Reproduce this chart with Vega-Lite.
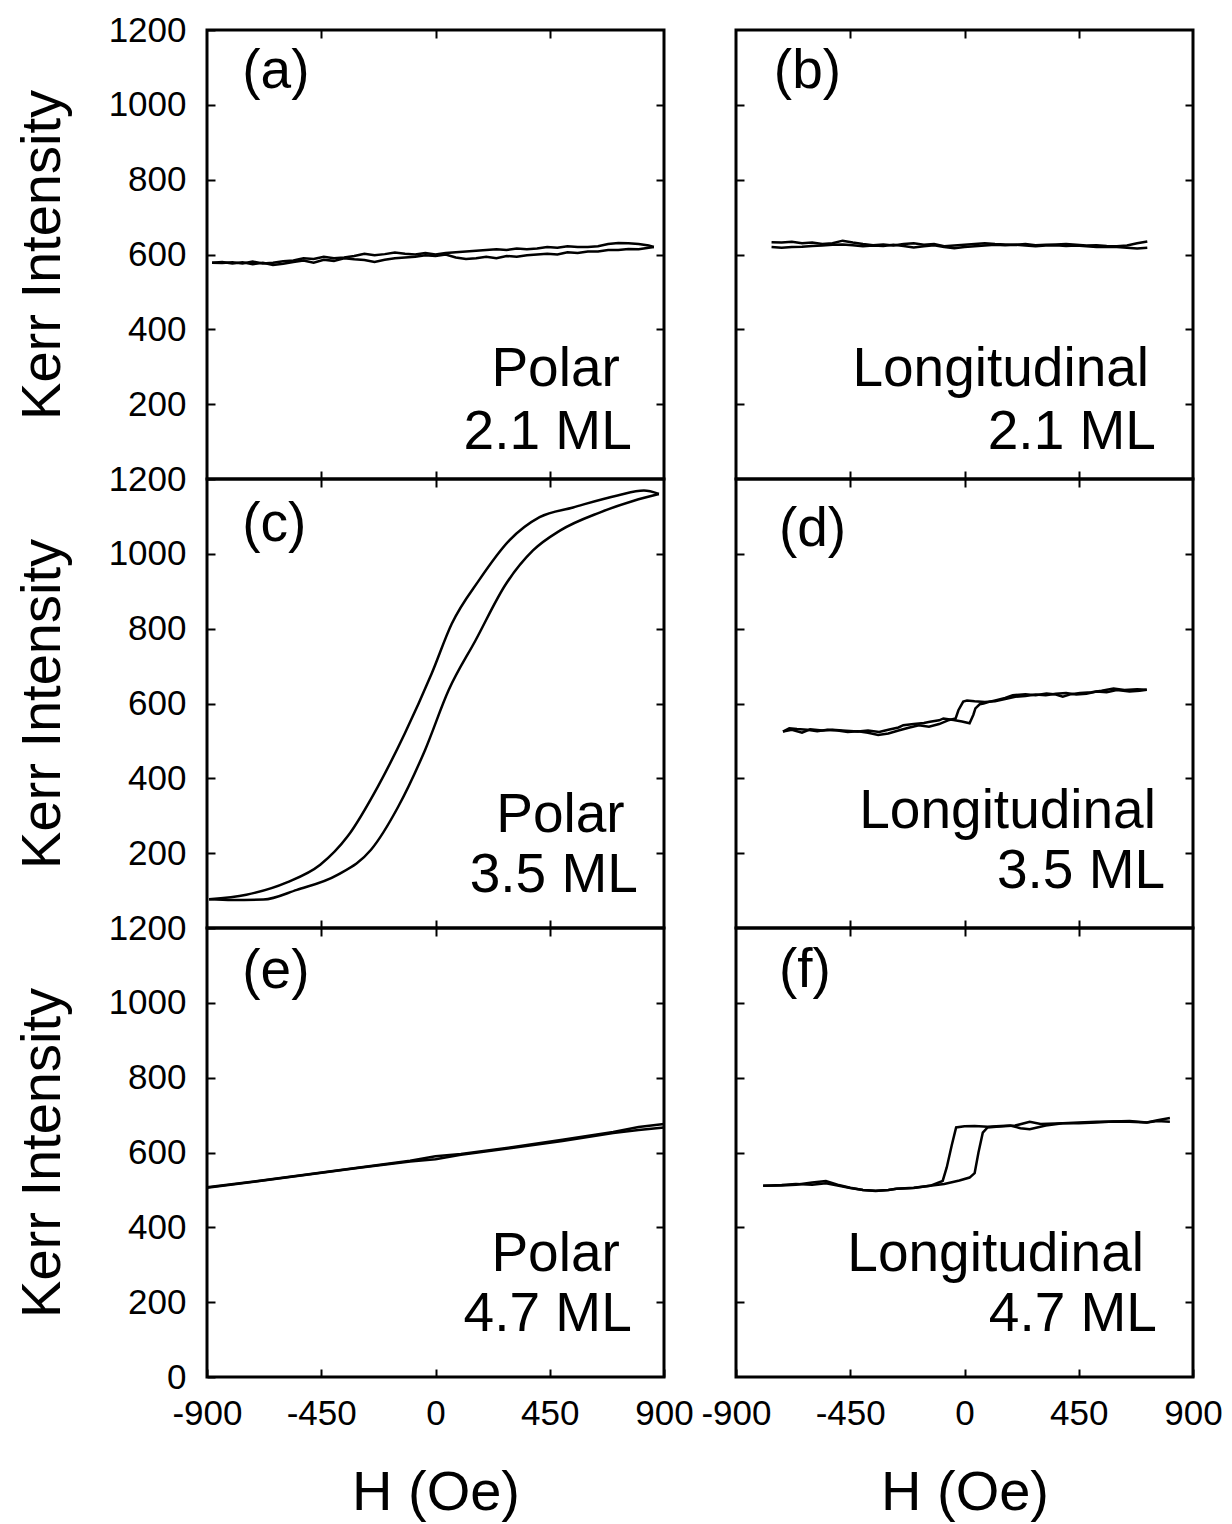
{
"$schema": "https://vega.github.io/schema/vega-lite/v6.json",
"padding": {"left": 12, "top": 11, "right": 5, "bottom": 5},
"background": "white",
"config": {
  "view": {"stroke": "black", "strokeWidth": 3},
  "font": "Liberation Sans",
  "axis": {"domain": false, "grid": false, "tickColor": "black", "tickWidth": 2, "tickSize": -8, "labelFont": "Liberation Sans", "labelFontSize": 35, "labelColor": "black", "labelFlush": false, "labelOverlap": false, "labelPadding": 29, "titleFont": "Liberation Sans", "titleFontSize": 56, "titleFontWeight": "normal", "titleColor": "black", "titlePadding": 37},
  "axisX": {"labelPadding": 27, "titlePadding": 34},
  "text": {"font": "Liberation Sans", "fontSize": 55, "color": "black"}
},
"datasets": {
"curves": [
{"p":"a","b":1,"H":-880,"K":578},{"p":"a","b":1,"H":-840,"K":580},{"p":"a","b":1,"H":-800,"K":576},{"p":"a","b":1,"H":-760,"K":579},{"p":"a","b":1,"H":-720,"K":574},{"p":"a","b":1,"H":-680,"K":578},{"p":"a","b":1,"H":-640,"K":572},{"p":"a","b":1,"H":-600,"K":575},{"p":"a","b":1,"H":-560,"K":580},{"p":"a","b":1,"H":-520,"K":584},{"p":"a","b":1,"H":-480,"K":578},{"p":"a","b":1,"H":-440,"K":586},{"p":"a","b":1,"H":-400,"K":583},{"p":"a","b":1,"H":-360,"K":590},{"p":"a","b":1,"H":-320,"K":587},{"p":"a","b":1,"H":-280,"K":585},{"p":"a","b":1,"H":-240,"K":580},{"p":"a","b":1,"H":-200,"K":586},{"p":"a","b":1,"H":-160,"K":590},{"p":"a","b":1,"H":-120,"K":592},{"p":"a","b":1,"H":-80,"K":594},{"p":"a","b":1,"H":-40,"K":598},{"p":"a","b":1,"H":0,"K":596},{"p":"a","b":1,"H":40,"K":600},{"p":"a","b":1,"H":80,"K":592},{"p":"a","b":1,"H":120,"K":588},{"p":"a","b":1,"H":160,"K":590},{"p":"a","b":1,"H":200,"K":594},{"p":"a","b":1,"H":240,"K":590},{"p":"a","b":1,"H":280,"K":596},{"p":"a","b":1,"H":320,"K":594},{"p":"a","b":1,"H":360,"K":598},{"p":"a","b":1,"H":400,"K":600},{"p":"a","b":1,"H":440,"K":602},{"p":"a","b":1,"H":480,"K":600},{"p":"a","b":1,"H":520,"K":606},{"p":"a","b":1,"H":560,"K":604},{"p":"a","b":1,"H":600,"K":608},{"p":"a","b":1,"H":640,"K":608},{"p":"a","b":1,"H":680,"K":612},{"p":"a","b":1,"H":720,"K":612},{"p":"a","b":1,"H":760,"K":615},{"p":"a","b":1,"H":800,"K":614},{"p":"a","b":1,"H":840,"K":618},{"p":"a","b":1,"H":860,"K":620},
{"p":"a","b":2,"H":-880,"K":578},{"p":"a","b":2,"H":-840,"K":577},{"p":"a","b":2,"H":-800,"K":579},{"p":"a","b":2,"H":-760,"K":576},{"p":"a","b":2,"H":-720,"K":581},{"p":"a","b":2,"H":-680,"K":576},{"p":"a","b":2,"H":-640,"K":578},{"p":"a","b":2,"H":-600,"K":582},{"p":"a","b":2,"H":-560,"K":584},{"p":"a","b":2,"H":-520,"K":590},{"p":"a","b":2,"H":-480,"K":588},{"p":"a","b":2,"H":-440,"K":594},{"p":"a","b":2,"H":-400,"K":590},{"p":"a","b":2,"H":-360,"K":592},{"p":"a","b":2,"H":-320,"K":596},{"p":"a","b":2,"H":-280,"K":602},{"p":"a","b":2,"H":-240,"K":598},{"p":"a","b":2,"H":-200,"K":601},{"p":"a","b":2,"H":-160,"K":605},{"p":"a","b":2,"H":-120,"K":602},{"p":"a","b":2,"H":-80,"K":600},{"p":"a","b":2,"H":-40,"K":604},{"p":"a","b":2,"H":0,"K":600},{"p":"a","b":2,"H":40,"K":604},{"p":"a","b":2,"H":80,"K":606},{"p":"a","b":2,"H":120,"K":608},{"p":"a","b":2,"H":160,"K":610},{"p":"a","b":2,"H":200,"K":612},{"p":"a","b":2,"H":240,"K":614},{"p":"a","b":2,"H":280,"K":612},{"p":"a","b":2,"H":320,"K":616},{"p":"a","b":2,"H":360,"K":614},{"p":"a","b":2,"H":400,"K":616},{"p":"a","b":2,"H":440,"K":620},{"p":"a","b":2,"H":480,"K":618},{"p":"a","b":2,"H":520,"K":622},{"p":"a","b":2,"H":560,"K":620},{"p":"a","b":2,"H":600,"K":620},{"p":"a","b":2,"H":640,"K":622},{"p":"a","b":2,"H":680,"K":628},{"p":"a","b":2,"H":720,"K":631},{"p":"a","b":2,"H":760,"K":630},{"p":"a","b":2,"H":800,"K":628},{"p":"a","b":2,"H":840,"K":624},{"p":"a","b":2,"H":860,"K":620},
{"p":"b","b":1,"H":-760,"K":633},{"p":"b","b":1,"H":-720,"K":632},{"p":"b","b":1,"H":-680,"K":634},{"p":"b","b":1,"H":-640,"K":630},{"p":"b","b":1,"H":-600,"K":632},{"p":"b","b":1,"H":-560,"K":628},{"p":"b","b":1,"H":-520,"K":630},{"p":"b","b":1,"H":-480,"K":637},{"p":"b","b":1,"H":-440,"K":632},{"p":"b","b":1,"H":-400,"K":628},{"p":"b","b":1,"H":-360,"K":625},{"p":"b","b":1,"H":-320,"K":627},{"p":"b","b":1,"H":-280,"K":624},{"p":"b","b":1,"H":-240,"K":628},{"p":"b","b":1,"H":-200,"K":630},{"p":"b","b":1,"H":-160,"K":626},{"p":"b","b":1,"H":-120,"K":628},{"p":"b","b":1,"H":-80,"K":622},{"p":"b","b":1,"H":-40,"K":624},{"p":"b","b":1,"H":0,"K":626},{"p":"b","b":1,"H":40,"K":628},{"p":"b","b":1,"H":80,"K":630},{"p":"b","b":1,"H":120,"K":628},{"p":"b","b":1,"H":160,"K":627},{"p":"b","b":1,"H":200,"K":626},{"p":"b","b":1,"H":240,"K":628},{"p":"b","b":1,"H":280,"K":625},{"p":"b","b":1,"H":320,"K":626},{"p":"b","b":1,"H":360,"K":627},{"p":"b","b":1,"H":400,"K":628},{"p":"b","b":1,"H":440,"K":626},{"p":"b","b":1,"H":480,"K":624},{"p":"b","b":1,"H":520,"K":625},{"p":"b","b":1,"H":560,"K":623},{"p":"b","b":1,"H":600,"K":622},{"p":"b","b":1,"H":640,"K":624},{"p":"b","b":1,"H":680,"K":630},{"p":"b","b":1,"H":720,"K":635},
{"p":"b","b":2,"H":-760,"K":620},{"p":"b","b":2,"H":-720,"K":618},{"p":"b","b":2,"H":-680,"K":620},{"p":"b","b":2,"H":-640,"K":621},{"p":"b","b":2,"H":-600,"K":623},{"p":"b","b":2,"H":-560,"K":624},{"p":"b","b":2,"H":-520,"K":626},{"p":"b","b":2,"H":-480,"K":627},{"p":"b","b":2,"H":-440,"K":625},{"p":"b","b":2,"H":-400,"K":622},{"p":"b","b":2,"H":-360,"K":624},{"p":"b","b":2,"H":-320,"K":623},{"p":"b","b":2,"H":-280,"K":626},{"p":"b","b":2,"H":-240,"K":623},{"p":"b","b":2,"H":-200,"K":619},{"p":"b","b":2,"H":-160,"K":622},{"p":"b","b":2,"H":-120,"K":625},{"p":"b","b":2,"H":-80,"K":620},{"p":"b","b":2,"H":-40,"K":617},{"p":"b","b":2,"H":0,"K":620},{"p":"b","b":2,"H":40,"K":622},{"p":"b","b":2,"H":80,"K":624},{"p":"b","b":2,"H":120,"K":626},{"p":"b","b":2,"H":160,"K":625},{"p":"b","b":2,"H":200,"K":626},{"p":"b","b":2,"H":240,"K":624},{"p":"b","b":2,"H":280,"K":622},{"p":"b","b":2,"H":320,"K":624},{"p":"b","b":2,"H":360,"K":625},{"p":"b","b":2,"H":400,"K":623},{"p":"b","b":2,"H":440,"K":624},{"p":"b","b":2,"H":480,"K":622},{"p":"b","b":2,"H":520,"K":620},{"p":"b","b":2,"H":560,"K":621},{"p":"b","b":2,"H":600,"K":620},{"p":"b","b":2,"H":640,"K":618},{"p":"b","b":2,"H":680,"K":616},{"p":"b","b":2,"H":720,"K":618},
{"p":"c","b":1,"H":-892,"K":77},{"p":"c","b":1,"H":-800,"K":75},{"p":"c","b":1,"H":-678,"K":76},{"p":"c","b":1,"H":-546,"K":102},{"p":"c","b":1,"H":-386,"K":142},{"p":"c","b":1,"H":-254,"K":209},{"p":"c","b":1,"H":-147,"K":324},{"p":"c","b":1,"H":-41,"K":476},{"p":"c","b":1,"H":52,"K":636},{"p":"c","b":1,"H":158,"K":769},{"p":"c","b":1,"H":278,"K":920},{"p":"c","b":1,"H":384,"K":1009},{"p":"c","b":1,"H":490,"K":1062},{"p":"c","b":1,"H":649,"K":1111},{"p":"c","b":1,"H":781,"K":1142},{"p":"c","b":1,"H":880,"K":1160},
{"p":"c","b":2,"H":-892,"K":77},{"p":"c","b":2,"H":-745,"K":89},{"p":"c","b":2,"H":-585,"K":122},{"p":"c","b":2,"H":-454,"K":169},{"p":"c","b":2,"H":-346,"K":245},{"p":"c","b":2,"H":-227,"K":378},{"p":"c","b":2,"H":-121,"K":520},{"p":"c","b":2,"H":-15,"K":680},{"p":"c","b":2,"H":64,"K":813},{"p":"c","b":2,"H":171,"K":929},{"p":"c","b":2,"H":291,"K":1036},{"p":"c","b":2,"H":410,"K":1098},{"p":"c","b":2,"H":542,"K":1124},{"p":"c","b":2,"H":717,"K":1156},{"p":"c","b":2,"H":821,"K":1169},{"p":"c","b":2,"H":880,"K":1160},
{"p":"d","b":1,"H":-715,"K":525},{"p":"d","b":1,"H":-680,"K":530},{"p":"d","b":1,"H":-640,"K":522},{"p":"d","b":1,"H":-608,"K":531},{"p":"d","b":1,"H":-560,"K":528},{"p":"d","b":1,"H":-520,"K":530},{"p":"d","b":1,"H":-467,"K":527},{"p":"d","b":1,"H":-420,"K":525},{"p":"d","b":1,"H":-380,"K":528},{"p":"d","b":1,"H":-336,"K":524},{"p":"d","b":1,"H":-300,"K":530},{"p":"d","b":1,"H":-260,"K":536},{"p":"d","b":1,"H":-241,"K":542},{"p":"d","b":1,"H":-200,"K":545},{"p":"d","b":1,"H":-160,"K":548},{"p":"d","b":1,"H":-136,"K":551},{"p":"d","b":1,"H":-100,"K":555},{"p":"d","b":1,"H":-83,"K":560},{"p":"d","b":1,"H":-43,"K":556},{"p":"d","b":1,"H":-10,"K":552},{"p":"d","b":1,"H":20,"K":547},{"p":"d","b":1,"H":35,"K":570},{"p":"d","b":1,"H":43,"K":587},{"p":"d","b":1,"H":60,"K":598},{"p":"d","b":1,"H":75,"K":600},{"p":"d","b":1,"H":100,"K":605},{"p":"d","b":1,"H":125,"K":609},{"p":"d","b":1,"H":160,"K":615},{"p":"d","b":1,"H":190,"K":622},{"p":"d","b":1,"H":240,"K":625},{"p":"d","b":1,"H":280,"K":622},{"p":"d","b":1,"H":323,"K":627},{"p":"d","b":1,"H":360,"K":624},{"p":"d","b":1,"H":387,"K":618},{"p":"d","b":1,"H":420,"K":625},{"p":"d","b":1,"H":455,"K":628},{"p":"d","b":1,"H":500,"K":630},{"p":"d","b":1,"H":540,"K":634},{"p":"d","b":1,"H":587,"K":640},{"p":"d","b":1,"H":630,"K":636},{"p":"d","b":1,"H":680,"K":638},{"p":"d","b":1,"H":718,"K":637},
{"p":"d","b":2,"H":-715,"K":525},{"p":"d","b":2,"H":-690,"K":534},{"p":"d","b":2,"H":-660,"K":532},{"p":"d","b":2,"H":-620,"K":530},{"p":"d","b":2,"H":-580,"K":526},{"p":"d","b":2,"H":-540,"K":530},{"p":"d","b":2,"H":-500,"K":528},{"p":"d","b":2,"H":-460,"K":524},{"p":"d","b":2,"H":-420,"K":526},{"p":"d","b":2,"H":-380,"K":522},{"p":"d","b":2,"H":-340,"K":516},{"p":"d","b":2,"H":-300,"K":520},{"p":"d","b":2,"H":-260,"K":528},{"p":"d","b":2,"H":-220,"K":535},{"p":"d","b":2,"H":-180,"K":542},{"p":"d","b":2,"H":-140,"K":538},{"p":"d","b":2,"H":-100,"K":545},{"p":"d","b":2,"H":-60,"K":556},{"p":"d","b":2,"H":-35,"K":560},{"p":"d","b":2,"H":-24,"K":582},{"p":"d","b":2,"H":-5,"K":605},{"p":"d","b":2,"H":10,"K":608},{"p":"d","b":2,"H":40,"K":606},{"p":"d","b":2,"H":80,"K":604},{"p":"d","b":2,"H":120,"K":606},{"p":"d","b":2,"H":160,"K":612},{"p":"d","b":2,"H":200,"K":618},{"p":"d","b":2,"H":240,"K":620},{"p":"d","b":2,"H":280,"K":624},{"p":"d","b":2,"H":320,"K":622},{"p":"d","b":2,"H":360,"K":626},{"p":"d","b":2,"H":400,"K":628},{"p":"d","b":2,"H":440,"K":624},{"p":"d","b":2,"H":480,"K":626},{"p":"d","b":2,"H":520,"K":632},{"p":"d","b":2,"H":560,"K":630},{"p":"d","b":2,"H":600,"K":636},{"p":"d","b":2,"H":650,"K":632},{"p":"d","b":2,"H":690,"K":634},{"p":"d","b":2,"H":718,"K":637},
{"p":"e","b":1,"H":-900,"K":506},{"p":"e","b":1,"H":-700,"K":523},{"p":"e","b":1,"H":-500,"K":541},{"p":"e","b":1,"H":-300,"K":559},{"p":"e","b":1,"H":-100,"K":576},{"p":"e","b":1,"H":0,"K":582},{"p":"e","b":1,"H":100,"K":594},{"p":"e","b":1,"H":300,"K":612},{"p":"e","b":1,"H":500,"K":631},{"p":"e","b":1,"H":700,"K":652},{"p":"e","b":1,"H":800,"K":660},{"p":"e","b":1,"H":900,"K":667},
{"p":"e","b":2,"H":-900,"K":507},{"p":"e","b":2,"H":-700,"K":524},{"p":"e","b":2,"H":-500,"K":542},{"p":"e","b":2,"H":-300,"K":560},{"p":"e","b":2,"H":-100,"K":578},{"p":"e","b":2,"H":0,"K":590},{"p":"e","b":2,"H":100,"K":596},{"p":"e","b":2,"H":300,"K":614},{"p":"e","b":2,"H":500,"K":634},{"p":"e","b":2,"H":700,"K":655},{"p":"e","b":2,"H":800,"K":668},{"p":"e","b":2,"H":900,"K":676},
{"p":"f","b":1,"H":-793,"K":511},{"p":"f","b":1,"H":-720,"K":513},{"p":"f","b":1,"H":-664,"K":516},{"p":"f","b":1,"H":-600,"K":514},{"p":"f","b":1,"H":-546,"K":518},{"p":"f","b":1,"H":-500,"K":512},{"p":"f","b":1,"H":-450,"K":505},{"p":"f","b":1,"H":-400,"K":500},{"p":"f","b":1,"H":-350,"K":498},{"p":"f","b":1,"H":-300,"K":500},{"p":"f","b":1,"H":-268,"K":503},{"p":"f","b":1,"H":-200,"K":505},{"p":"f","b":1,"H":-136,"K":511},{"p":"f","b":1,"H":-80,"K":516},{"p":"f","b":1,"H":-20,"K":525},{"p":"f","b":1,"H":20,"K":533},{"p":"f","b":1,"H":40,"K":545},{"p":"f","b":1,"H":55,"K":600},{"p":"f","b":1,"H":72,"K":653},{"p":"f","b":1,"H":91,"K":667},{"p":"f","b":1,"H":125,"K":669},{"p":"f","b":1,"H":200,"K":672},{"p":"f","b":1,"H":257,"K":682},{"p":"f","b":1,"H":300,"K":676},{"p":"f","b":1,"H":387,"K":678},{"p":"f","b":1,"H":450,"K":680},{"p":"f","b":1,"H":520,"K":682},{"p":"f","b":1,"H":585,"K":683},{"p":"f","b":1,"H":650,"K":682},{"p":"f","b":1,"H":718,"K":680},{"p":"f","b":1,"H":760,"K":684},{"p":"f","b":1,"H":809,"K":682},
{"p":"f","b":2,"H":-793,"K":511},{"p":"f","b":2,"H":-720,"K":512},{"p":"f","b":2,"H":-664,"K":514},{"p":"f","b":2,"H":-600,"K":520},{"p":"f","b":2,"H":-546,"K":524},{"p":"f","b":2,"H":-500,"K":514},{"p":"f","b":2,"H":-450,"K":506},{"p":"f","b":2,"H":-400,"K":500},{"p":"f","b":2,"H":-350,"K":497},{"p":"f","b":2,"H":-300,"K":500},{"p":"f","b":2,"H":-268,"K":503},{"p":"f","b":2,"H":-200,"K":506},{"p":"f","b":2,"H":-136,"K":511},{"p":"f","b":2,"H":-86,"K":524},{"p":"f","b":2,"H":-70,"K":560},{"p":"f","b":2,"H":-50,"K":620},{"p":"f","b":2,"H":-33,"K":667},{"p":"f","b":2,"H":0,"K":670},{"p":"f","b":2,"H":40,"K":671},{"p":"f","b":2,"H":91,"K":669},{"p":"f","b":2,"H":125,"K":670},{"p":"f","b":2,"H":180,"K":672},{"p":"f","b":2,"H":220,"K":665},{"p":"f","b":2,"H":257,"K":662},{"p":"f","b":2,"H":320,"K":672},{"p":"f","b":2,"H":387,"K":678},{"p":"f","b":2,"H":450,"K":678},{"p":"f","b":2,"H":520,"K":680},{"p":"f","b":2,"H":585,"K":683},{"p":"f","b":2,"H":650,"K":684},{"p":"f","b":2,"H":718,"K":680},{"p":"f","b":2,"H":760,"K":686},{"p":"f","b":2,"H":809,"K":692}
],
"labels": [
{"p":"a","kind":"tag","t":"(a)","H":-761,"K":1091},
{"p":"b","kind":"tag","t":"(b)","H":-751,"K":1091},
{"p":"c","kind":"tag","t":"(c)","H":-761,"K":1080},
{"p":"d","kind":"tag","t":"(d)","H":-731,"K":1067},
{"p":"e","kind":"tag","t":"(e)","H":-761,"K":1085},
{"p":"f","kind":"tag","t":"(f)","H":-731,"K":1088},
{"p":"a","kind":"note","t":"Polar","H":726,"K":295},
{"p":"a","kind":"note","t":"2.1 ML","H":773,"K":126},
{"p":"b","kind":"note","t":"Longitudinal","H":727,"K":295},
{"p":"b","kind":"note","t":"2.1 ML","H":754,"K":126},
{"p":"c","kind":"note","t":"Polar","H":745,"K":301},
{"p":"c","kind":"note","t":"3.5 ML","H":797,"K":141},
{"p":"d","kind":"note","t":"Longitudinal","H":754,"K":312},
{"p":"d","kind":"note","t":"3.5 ML","H":790,"K":152},
{"p":"e","kind":"note","t":"Polar","H":726,"K":328},
{"p":"e","kind":"note","t":"4.7 ML","H":773,"K":168},
{"p":"f","kind":"note","t":"Longitudinal","H":707,"K":328},
{"p":"f","kind":"note","t":"4.7 ML","H":758,"K":168}
]
},
"columns": 2,
"spacing": {"row": 0, "column": 72},
"bounds": "flush",
"resolve": {"scale": {"x": "independent", "y": "independent"}},
"concat": [
{"width": 457, "height": 449, "resolve": {"axis": {"x": "independent", "y": "independent"}},
 "layer": [
  {"data": {"name": "curves"}, "transform": [{"filter": "datum.p == 'a'"}], "mark": {"type": "line", "color": "black", "strokeWidth": 2.5},
   "encoding": {"x": {"field": "H", "type": "quantitative", "scale": {"domain": [-900, 900], "nice": false, "zero": false}, "axis": {"orient": "bottom", "values": [-450, 0, 450], "labels": false, "title": null}},
                "y": {"field": "K", "type": "quantitative", "scale": {"domain": [0, 1200], "nice": false, "zero": false}, "axis": {"orient": "left", "values": [200, 400, 600, 800, 1000, 1200], "labelExpr": "datum.value + ''", "title": "Kerr Intensity"}},
                "detail": {"field": "b"}}},
  {"data": {"name": "labels"}, "transform": [{"filter": "datum.p == 'a' && datum.kind == 'tag'"}], "mark": {"type": "text", "align": "left", "baseline": "middle"},
   "encoding": {"x": {"field": "H", "type": "quantitative", "scale": {"domain": [-900, 900], "nice": false, "zero": false}, "axis": {"orient": "top", "values": [-450, 0, 450], "labels": false, "title": null}},
                "y": {"field": "K", "type": "quantitative", "scale": {"domain": [0, 1200], "nice": false, "zero": false}, "axis": {"orient": "right", "values": [200, 400, 600, 800, 1000], "labels": false, "title": null}},
                "text": {"field": "t"}}},
  {"data": {"name": "labels"}, "transform": [{"filter": "datum.p == 'a' && datum.kind == 'note'"}], "mark": {"type": "text", "align": "right", "baseline": "middle"},
   "encoding": {"x": {"field": "H", "type": "quantitative", "axis": null}, "y": {"field": "K", "type": "quantitative", "axis": null}, "text": {"field": "t"}}}
 ]},
{"width": 457, "height": 449, "resolve": {"axis": {"x": "independent", "y": "independent"}},
 "layer": [
  {"data": {"name": "curves"}, "transform": [{"filter": "datum.p == 'b'"}], "mark": {"type": "line", "color": "black", "strokeWidth": 2.5},
   "encoding": {"x": {"field": "H", "type": "quantitative", "scale": {"domain": [-900, 900], "nice": false, "zero": false}, "axis": {"orient": "bottom", "values": [-450, 0, 450], "labels": false, "title": null}},
                "y": {"field": "K", "type": "quantitative", "scale": {"domain": [0, 1200], "nice": false, "zero": false}, "axis": {"orient": "left", "values": [200, 400, 600, 800, 1000], "labels": false, "title": null}},
                "detail": {"field": "b"}}},
  {"data": {"name": "labels"}, "transform": [{"filter": "datum.p == 'b' && datum.kind == 'tag'"}], "mark": {"type": "text", "align": "left", "baseline": "middle"},
   "encoding": {"x": {"field": "H", "type": "quantitative", "scale": {"domain": [-900, 900], "nice": false, "zero": false}, "axis": {"orient": "top", "values": [-450, 0, 450], "labels": false, "title": null}},
                "y": {"field": "K", "type": "quantitative", "scale": {"domain": [0, 1200], "nice": false, "zero": false}, "axis": {"orient": "right", "values": [200, 400, 600, 800, 1000], "labels": false, "title": null}},
                "text": {"field": "t"}}},
  {"data": {"name": "labels"}, "transform": [{"filter": "datum.p == 'b' && datum.kind == 'note'"}], "mark": {"type": "text", "align": "right", "baseline": "middle"},
   "encoding": {"x": {"field": "H", "type": "quantitative", "axis": null}, "y": {"field": "K", "type": "quantitative", "axis": null}, "text": {"field": "t"}}}
 ]},
{"width": 457, "height": 449, "resolve": {"axis": {"x": "independent", "y": "independent"}},
 "layer": [
  {"data": {"name": "curves"}, "transform": [{"filter": "datum.p == 'c'"}], "mark": {"type": "line", "color": "black", "strokeWidth": 2.5, "interpolate": "monotone"},
   "encoding": {"x": {"field": "H", "type": "quantitative", "scale": {"domain": [-900, 900], "nice": false, "zero": false}, "axis": {"orient": "bottom", "values": [-450, 0, 450], "labels": false, "title": null}},
                "y": {"field": "K", "type": "quantitative", "scale": {"domain": [0, 1200], "nice": false, "zero": false}, "axis": {"orient": "left", "values": [200, 400, 600, 800, 1000, 1200], "labelExpr": "datum.value + ''", "title": "Kerr Intensity"}},
                "detail": {"field": "b"}}},
  {"data": {"name": "labels"}, "transform": [{"filter": "datum.p == 'c' && datum.kind == 'tag'"}], "mark": {"type": "text", "align": "left", "baseline": "middle"},
   "encoding": {"x": {"field": "H", "type": "quantitative", "scale": {"domain": [-900, 900], "nice": false, "zero": false}, "axis": {"orient": "top", "values": [-450, 0, 450], "labels": false, "title": null}},
                "y": {"field": "K", "type": "quantitative", "scale": {"domain": [0, 1200], "nice": false, "zero": false}, "axis": {"orient": "right", "values": [200, 400, 600, 800, 1000], "labels": false, "title": null}},
                "text": {"field": "t"}}},
  {"data": {"name": "labels"}, "transform": [{"filter": "datum.p == 'c' && datum.kind == 'note'"}], "mark": {"type": "text", "align": "right", "baseline": "middle"},
   "encoding": {"x": {"field": "H", "type": "quantitative", "axis": null}, "y": {"field": "K", "type": "quantitative", "axis": null}, "text": {"field": "t"}}}
 ]},
{"width": 457, "height": 449, "resolve": {"axis": {"x": "independent", "y": "independent"}},
 "layer": [
  {"data": {"name": "curves"}, "transform": [{"filter": "datum.p == 'd'"}], "mark": {"type": "line", "color": "black", "strokeWidth": 2.5},
   "encoding": {"x": {"field": "H", "type": "quantitative", "scale": {"domain": [-900, 900], "nice": false, "zero": false}, "axis": {"orient": "bottom", "values": [-450, 0, 450], "labels": false, "title": null}},
                "y": {"field": "K", "type": "quantitative", "scale": {"domain": [0, 1200], "nice": false, "zero": false}, "axis": {"orient": "left", "values": [200, 400, 600, 800, 1000], "labels": false, "title": null}},
                "detail": {"field": "b"}}},
  {"data": {"name": "labels"}, "transform": [{"filter": "datum.p == 'd' && datum.kind == 'tag'"}], "mark": {"type": "text", "align": "left", "baseline": "middle"},
   "encoding": {"x": {"field": "H", "type": "quantitative", "scale": {"domain": [-900, 900], "nice": false, "zero": false}, "axis": {"orient": "top", "values": [-450, 0, 450], "labels": false, "title": null}},
                "y": {"field": "K", "type": "quantitative", "scale": {"domain": [0, 1200], "nice": false, "zero": false}, "axis": {"orient": "right", "values": [200, 400, 600, 800, 1000], "labels": false, "title": null}},
                "text": {"field": "t"}}},
  {"data": {"name": "labels"}, "transform": [{"filter": "datum.p == 'd' && datum.kind == 'note'"}], "mark": {"type": "text", "align": "right", "baseline": "middle"},
   "encoding": {"x": {"field": "H", "type": "quantitative", "axis": null}, "y": {"field": "K", "type": "quantitative", "axis": null}, "text": {"field": "t"}}}
 ]},
{"width": 457, "height": 449, "resolve": {"axis": {"x": "independent", "y": "independent"}},
 "layer": [
  {"data": {"name": "curves"}, "transform": [{"filter": "datum.p == 'e'"}], "mark": {"type": "line", "color": "black", "strokeWidth": 2.5},
   "encoding": {"x": {"field": "H", "type": "quantitative", "scale": {"domain": [-900, 900], "nice": false, "zero": false}, "axis": {"orient": "bottom", "values": [-900, -450, 0, 450, 900], "labelExpr": "datum.value + ''", "title": "H (Oe)"}},
                "y": {"field": "K", "type": "quantitative", "scale": {"domain": [0, 1200], "nice": false, "zero": false}, "axis": {"orient": "left", "values": [0, 200, 400, 600, 800, 1000, 1200], "labelExpr": "datum.value + ''", "title": "Kerr Intensity"}},
                "detail": {"field": "b"}}},
  {"data": {"name": "labels"}, "transform": [{"filter": "datum.p == 'e' && datum.kind == 'tag'"}], "mark": {"type": "text", "align": "left", "baseline": "middle"},
   "encoding": {"x": {"field": "H", "type": "quantitative", "scale": {"domain": [-900, 900], "nice": false, "zero": false}, "axis": {"orient": "top", "values": [-450, 0, 450], "labels": false, "title": null}},
                "y": {"field": "K", "type": "quantitative", "scale": {"domain": [0, 1200], "nice": false, "zero": false}, "axis": {"orient": "right", "values": [200, 400, 600, 800, 1000], "labels": false, "title": null}},
                "text": {"field": "t"}}},
  {"data": {"name": "labels"}, "transform": [{"filter": "datum.p == 'e' && datum.kind == 'note'"}], "mark": {"type": "text", "align": "right", "baseline": "middle"},
   "encoding": {"x": {"field": "H", "type": "quantitative", "axis": null}, "y": {"field": "K", "type": "quantitative", "axis": null}, "text": {"field": "t"}}}
 ]},
{"width": 457, "height": 449, "resolve": {"axis": {"x": "independent", "y": "independent"}},
 "layer": [
  {"data": {"name": "curves"}, "transform": [{"filter": "datum.p == 'f'"}], "mark": {"type": "line", "color": "black", "strokeWidth": 2.5},
   "encoding": {"x": {"field": "H", "type": "quantitative", "scale": {"domain": [-900, 900], "nice": false, "zero": false}, "axis": {"orient": "bottom", "values": [-900, -450, 0, 450, 900], "labelExpr": "datum.value + ''", "title": "H (Oe)"}},
                "y": {"field": "K", "type": "quantitative", "scale": {"domain": [0, 1200], "nice": false, "zero": false}, "axis": {"orient": "left", "values": [200, 400, 600, 800, 1000], "labels": false, "title": null}},
                "detail": {"field": "b"}}},
  {"data": {"name": "labels"}, "transform": [{"filter": "datum.p == 'f' && datum.kind == 'tag'"}], "mark": {"type": "text", "align": "left", "baseline": "middle"},
   "encoding": {"x": {"field": "H", "type": "quantitative", "scale": {"domain": [-900, 900], "nice": false, "zero": false}, "axis": {"orient": "top", "values": [-450, 0, 450], "labels": false, "title": null}},
                "y": {"field": "K", "type": "quantitative", "scale": {"domain": [0, 1200], "nice": false, "zero": false}, "axis": {"orient": "right", "values": [200, 400, 600, 800, 1000], "labels": false, "title": null}},
                "text": {"field": "t"}}},
  {"data": {"name": "labels"}, "transform": [{"filter": "datum.p == 'f' && datum.kind == 'note'"}], "mark": {"type": "text", "align": "right", "baseline": "middle"},
   "encoding": {"x": {"field": "H", "type": "quantitative", "axis": null}, "y": {"field": "K", "type": "quantitative", "axis": null}, "text": {"field": "t"}}}
 ]}
]
}
